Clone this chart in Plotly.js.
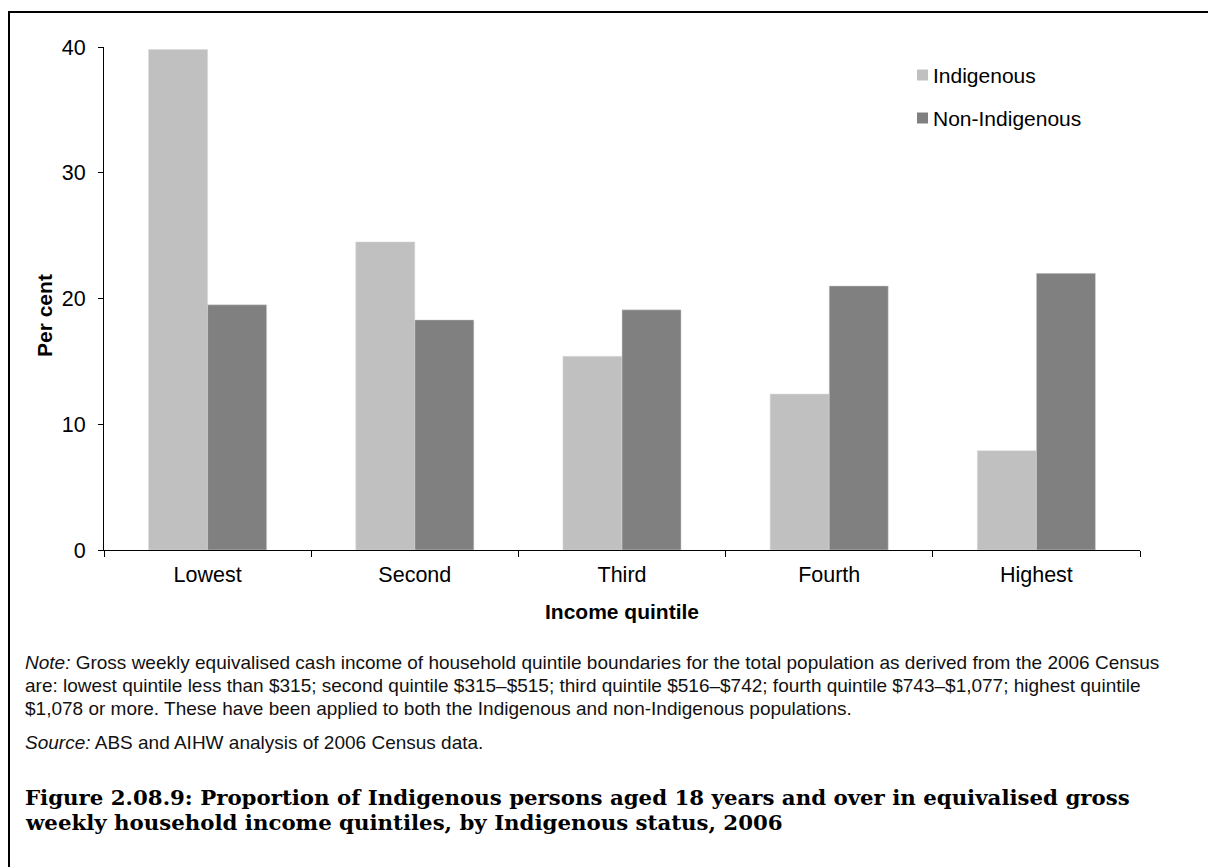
<!DOCTYPE html>
<html>
<head>
<meta charset="utf-8">
<script src="https://cdn.plot.ly/plotly-3.0.1.min.js"></script>
<style>html,body{margin:0;padding:0;background:#fff;}#chart{width:1208px;height:867px;}</style>
</head>
<body>
<div id="chart"></div>
<script>
// ---- data ----
const categories = ["Lowest", "Second", "Third", "Fourth", "Highest"];
const seriesNames = ["Indigenous", "Non-Indigenous"];
const indigenous = [39.8, 24.5, 15.4, 12.4, 7.9];
const nonIndigenous = [19.5, 18.3, 19.1, 21.0, 22.0];
const yTickValues = [0, 10, 20, 30, 40];
const xAxisTitle = "Income quintile";
const yAxisTitle = "Per cent";
const noteLines = [
  "<i>Note:</i> Gross weekly equivalised cash income of household quintile boundaries for the total population as derived from the 2006 Census",
  "are: lowest quintile less than $315; second quintile $315–$515; third quintile $516–$742; fourth quintile $743–$1,077; highest quintile",
  "$1,078 or more. These have been applied to both the Indigenous and non-Indigenous populations."
];
const sourceLine = "<i>Source:</i> ABS and AIHW analysis of 2006 Census data.";
const figureTitleLines = [
  "Figure 2.08.9: Proportion of Indigenous persons aged 18 years and over in equivalised gross",
  "weekly household income quintiles, by Indigenous status, 2006"
];

// ---- layout geometry ----
const W = 1208, H = 867;
const L = 104, R = 1140, T = 47, B = 550;
const px = x => (x - L) / (R - L);
const py = y => (B - y) / (B - T);
const colors = ["#c0c0c0", "#808080"];
const sans = "Liberation Sans, Arial, sans-serif";
const serif = "DejaVu Serif, Liberation Serif, serif";

const traces = [indigenous, nonIndigenous].map((vals, i) => ({
  type: "bar",
  name: seriesNames[i],
  x: categories,
  y: vals,
  marker: {color: colors[i], line: {color: "#d8d8d8", width: 0.5}},
  showlegend: false,
  hoverinfo: "x+y+name"
}));

const annotations = [];
// y-axis title
annotations.push({xref: "paper", yref: "paper", x: px(44), y: py(316), xanchor: "center", yanchor: "middle",
  showarrow: false, textangle: -90, text: "<b>" + yAxisTitle + "</b>",
  font: {family: sans, size: 21, color: "#000"}});
// custom legend text
const legendY = [75, 118];
seriesNames.forEach((n, i) => {
  annotations.push({xref: "paper", yref: "paper", x: px(931), y: py(legendY[i]),
    xanchor: "left", yanchor: "middle", showarrow: false, text: n,
    font: {family: sans, size: 21, color: "#000"}});
});
// note lines
const noteY = [662, 685, 708];
noteLines.forEach((t, i) => {
  annotations.push({xref: "paper", yref: "paper", x: px(23), y: py(noteY[i]),
    xanchor: "left", yanchor: "middle", showarrow: false, text: t, align: "left",
    font: {family: sans, size: 19, color: "#111"}});
});
annotations.push({xref: "paper", yref: "paper", x: px(23), y: py(742),
  xanchor: "left", yanchor: "middle", showarrow: false, text: sourceLine, align: "left",
  font: {family: sans, size: 19, color: "#111"}});
const titleY = [797, 822];
figureTitleLines.forEach((t, i) => {
  annotations.push({xref: "paper", yref: "paper", x: px(23), y: py(titleY[i]),
    xanchor: "left", yanchor: "middle", showarrow: false, text: "<b>" + t + "</b>", align: "left",
    font: {family: serif, size: 21.3, color: "#000"}});
});

const shapes = [
  {type: "line", xref: "paper", yref: "paper", x0: px(8), x1: px(W + 5), y0: py(12), y1: py(12), line: {color: "#000", width: 2}},
  {type: "line", xref: "paper", yref: "paper", x0: px(9), x1: px(9), y0: py(11), y1: py(H + 5), line: {color: "#000", width: 2}}
];
legendY.forEach((y, i) => {
  shapes.push({type: "rect", xref: "paper", yref: "paper", x0: px(917), x1: px(928), y0: py(y - 5.5), y1: py(y + 5.5),
    fillcolor: colors[i], line: {width: 0}});
});

const layout = {
  width: W, height: H,
  margin: {l: L, r: W - R, t: T, b: H - B, pad: 0},
  paper_bgcolor: "#fff", plot_bgcolor: "#fff",
  barmode: "group", bargap: 0.43, bargroupgap: 0,
  font: {family: sans, color: "#000"},
  xaxis: {
    type: "category", range: [-0.5, 4.5], showline: true, linecolor: "#000", linewidth: 1,
    ticks: "outside", tickson: "boundaries", ticklen: 6, tickcolor: "#000", tickwidth: 1,
    showgrid: false, zeroline: false, ticklabelstandoff: 5,
    tickfont: {family: sans, size: 21.5, color: "#000"},
    title: {text: "<b>" + xAxisTitle + "</b>", font: {family: sans, size: 21, color: "#000"}, standoff: 18},
    automargin: false, fixedrange: true
  },
  yaxis: {
    range: [0, 40], tickvals: yTickValues, showline: true, linecolor: "#000", linewidth: 1,
    ticks: "outside", ticklen: 5, tickcolor: "#000", tickwidth: 1, showgrid: false, zeroline: false,
    ticklabelstandoff: 8,
    tickfont: {family: sans, size: 21.5, color: "#000"},
    automargin: false, fixedrange: true
  },
  annotations: annotations,
  shapes: shapes,
  showlegend: false
};

Plotly.newPlot("chart", traces, layout, {displayModeBar: false, staticPlot: true});
</script>
</body>
</html>
